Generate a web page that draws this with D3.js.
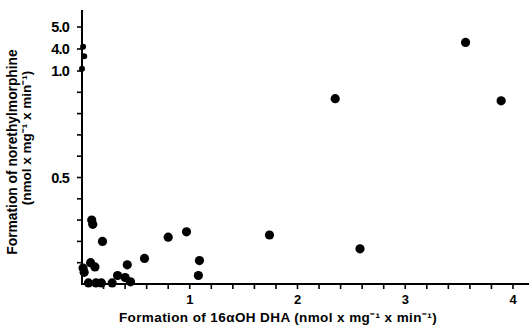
<!DOCTYPE html>
<html><head><meta charset="utf-8">
<script src="https://cdn.jsdelivr.net/npm/d3@7"></script>
<style>body{margin:0;background:#fff}svg{display:block}text{font-family:"Liberation Sans",Arial,sans-serif;font-weight:bold;fill:#000}</style>
</head><body><svg id="c" width="529" height="329"></svg>
<script>
const xValues = [3.56,2.35,3.89,1.74,2.58,0.09,0.10,0.19,0.80,0.97,1.09,1.08,0.58,0.42,0.33,0.40,0.45,0.08,0.12,0.01,0.02,0.06,0.13,0.18,0.28,0.01,0.02,0.00];
const yValues = [4.30,0.87,0.86,0.23,0.165,0.30,0.28,0.20,0.22,0.245,0.11,0.04,0.12,0.09,0.04,0.03,0.01,0.10,0.08,0.075,0.055,0.005,0.005,0.005,0.005,4.10,3.00,1.30];
const pointSizes = [4.6,4.6,4.6,4.6,4.6,4.6,4.6,4.6,4.6,4.6,4.6,4.6,4.6,4.6,4.6,4.6,4.6,4.6,4.6,4.6,4.6,4.6,4.6,4.6,4.6,3,3,3];
const xTickLabels = ["1","2","3","4"];
const xTickValues = [1,2,3,4];
const yTickLabels = ["5.0","4.0","1.0","0.5"];
const yTickValues = [5,4,1,0.5];
const xTitle = "Formation of 16\u03b1OH DHA (nmol x mg\u207b\u00b9 x min\u207b\u00b9)";
const yTitle1 = "Formation of norethylmorphine";
const yTitle2 = "(nmol x mg\u207b\u00b9 x min\u207b\u00b9)";

const svg = d3.select("#c");
const x = d3.scaleLinear().domain([0,4]).range([82,513]);
const y = d3.scaleLinear().domain([0,1,4,5]).range([284,71,49,27]);

const xAxisG = svg.append("g").attr("transform","translate(0,284)");
xAxisG.append("line").attr("x1",81).attr("x2",529).attr("y1",0).attr("y2",0).attr("stroke","#000").attr("stroke-width",2);
const xMinor = d3.range(0.2,4.41,0.2);
xAxisG.selectAll("line.mt").data(xMinor).join("line").attr("class","mt")
  .attr("x1",d=>x(d)).attr("x2",d=>x(d)).attr("y1",0).attr("y2",5).attr("stroke","#000").attr("stroke-width",1.6);
xAxisG.selectAll("text").data(xTickValues).join("text")
  .attr("x",d=>x(d)).attr("y",20).attr("text-anchor","middle").attr("font-size",13).text((d,i)=>xTickLabels[i]);

const yAxisG = svg.append("g");
yAxisG.append("line").attr("x1",82).attr("x2",82).attr("y1",10).attr("y2",285).attr("stroke","#000").attr("stroke-width",2);
const yMinor = d3.range(0.1,1.01,0.1).concat([4,5]);
yAxisG.selectAll("line.yt").data(yMinor).join("line").attr("class","yt")
  .attr("x1",77).attr("x2",82).attr("y1",d=>y(d)).attr("y2",d=>y(d)).attr("stroke","#000").attr("stroke-width",1.6);
yAxisG.selectAll("text").data(yTickValues).join("text")
  .attr("x",69).attr("y",d=>y(d)+5).attr("text-anchor","end").attr("font-size",14.5).attr("letter-spacing",-0.8)
  .text((d,i)=>yTickLabels[i]);

svg.append("text").attr("x",278).attr("y",322).attr("text-anchor","middle").attr("font-size",13.5).attr("letter-spacing",0.4).text(xTitle);
svg.append("text").attr("transform","translate(17,152) rotate(-90)").attr("text-anchor","middle").attr("font-size",13.8).text(yTitle1);
svg.append("text").attr("transform","translate(31,138) rotate(-90)").attr("text-anchor","middle").attr("font-size",13.5).text(yTitle2);

svg.append("g").selectAll("circle").data(xValues).join("circle")
  .attr("cx",(d)=>x(d)).attr("cy",(d,i)=>y(yValues[i])).attr("r",(d,i)=>pointSizes[i]).attr("fill","#000");
</script></body></html>
